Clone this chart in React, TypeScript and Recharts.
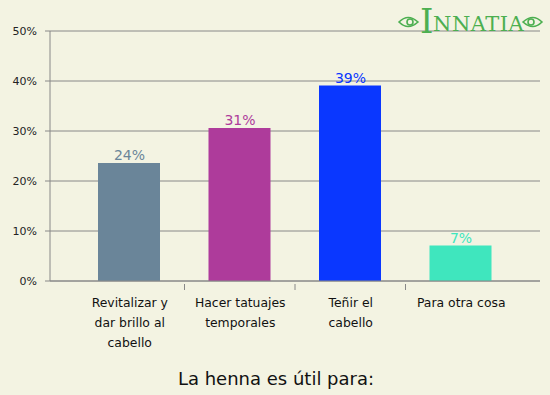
import React from "react";
import { BarChart, Bar, XAxis, YAxis, CartesianGrid, Cell, LabelList } from "recharts";

const categories = ["Revitalizar y dar brillo al cabello", "Hacer tatuajes temporales", "Teñir el cabello", "Para otra cosa"];
const categoryLines = [["Revitalizar y", "dar brillo al", "cabello"], ["Hacer tatuajes", "temporales"], ["Teñir el", "cabello"], ["Para otra cosa"]];
const values = [23.6, 30.6, 39.1, 7.1];
const valueLabels = ["24%", "31%", "39%", "7%"];
const colors = ["#6a8599", "#ae3b9b", "#0a37ff", "#3fe6be"];
const yTicks = [0, 10, 20, 30, 40, 50];
const title = "La henna es útil para:";

const data = categories.map((c, i) => ({ name: c, value: values[i], label: valueLabels[i], idx: i }));

const FONT = "'DejaVu Sans', Verdana, sans-serif";

const XTick = (props: any) => {
  const { x, y, payload, index } = props;
  const lines = categoryLines[payload.index ?? index] || [];
  const half = 110.5 / 2;
  return (
    <g>
      {index > 0 && <line x1={x - half} x2={x - half} y1={y - 5} y2={y + 1} stroke="#888" strokeWidth={1} />}
      {lines.map((l, i) => (
        <text key={i} x={x + 0.5} y={y + 18 + i * 20} textAnchor="middle" fontSize={12.4} fill="#111" fontFamily={FONT}>
          {l}
        </text>
      ))}
    </g>
  );
};

const Logo = () => (
  <svg width={160} height={40} style={{ position: "absolute", left: 390, top: 0 }}>
    <g fill="none" stroke="#4caf50" strokeWidth={1.6}>
      <path d="M9 22 Q18 13 28 22 Q18 31 9 22 Z" />
      <circle cx={20} cy={22} r={3} />
      <path d="M133 22 Q143 13 152 22 Q143 31 133 22 Z" />
      <circle cx={141} cy={22} r={3} />
    </g>
    <text x={30} y={33} fontSize={34} fill="#4caf50" fontFamily="'DejaVu Serif', serif">I</text>
    <text x={43} y={31} fontSize={21} fill="#4caf50" fontFamily="'DejaVu Serif', serif" letterSpacing={0.5}>NNATIA</text>
  </svg>
);

export default function App() {
  return (
    <div style={{ position: "absolute", left: 0, top: 0, width: 550, height: 395, background: "#f3f3e2", fontFamily: FONT }}>
      <BarChart width={550} height={395} data={data} margin={{ top: 31, right: 10, bottom: 34, left: 0 }} barSize={62}>
        <CartesianGrid horizontal={true} vertical={false} stroke="#888" strokeDasharray="" />
        <XAxis
          dataKey="name"
          height={80}
          stroke="#888"
          tickLine={false}
          interval={0}
          padding={{ left: 24, right: 24 }}
          tick={<XTick />}
        />
        <YAxis
          width={50}
          domain={[0, 50]}
          ticks={yTicks}
          tickFormatter={(v: number) => `${v}%`}
          stroke="#888"
          tickSize={5}
          tickMargin={8}
          tick={{ fontSize: 11, fill: "#222", fontFamily: FONT }}
          interval={0}
        />
        <Bar dataKey="value" isAnimationActive={false}>
          {data.map((d, i) => (
            <Cell key={i} fill={colors[i]} />
          ))}
          <LabelList
            dataKey="label"
            position="top"
            offset={3}
            content={(p: any) => (
              <text x={p.x + p.width / 2 + 0.5} y={p.y - 3} textAnchor="middle" fontSize={14} fill={colors[p.index]} fontFamily={FONT}>
                {p.value}
              </text>
            )}
          />
        </Bar>
      </BarChart>
      <div style={{ position: "absolute", left: 0, top: 368, width: 552, textAlign: "center", fontSize: 18, color: "#111", fontFamily: FONT }}>
        {title}
      </div>
      <Logo />
    </div>
  );
}
